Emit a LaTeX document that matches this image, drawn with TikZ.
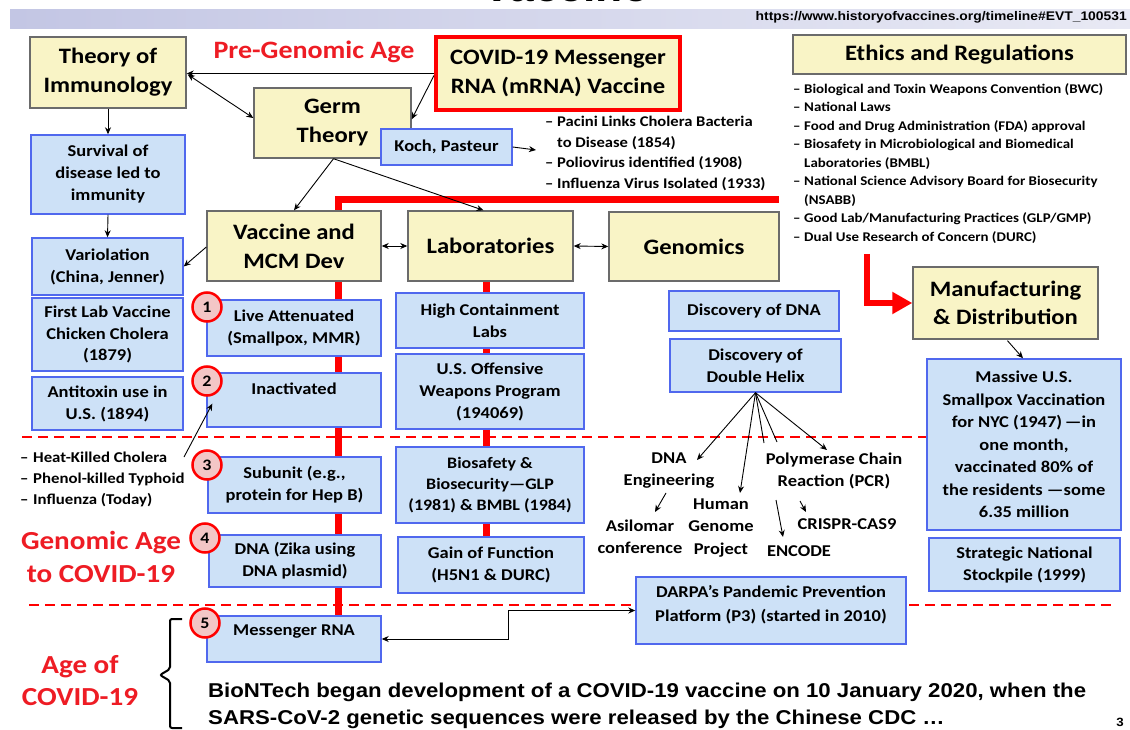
\documentclass[tikz,border=0pt]{standalone}
\usepackage{fontspec}
\setmainfont{Carlito}[FakeStretch=1.12]
\newfontfamily\arialf{Liberation Sans}[FakeStretch=1.11]
\usetikzlibrary{arrows.meta,calc}
\newcommand\myfs[2]{\fontsize{#1}{#2}\selectfont}
\definecolor{yfill}{HTML}{F9F4C6}
\definecolor{yline}{HTML}{6B6B6B}
\definecolor{bfill}{HTML}{CDE1F7}
\definecolor{bline}{HTML}{5068EE}
\definecolor{cfill}{HTML}{F3C6C6}
\definecolor{myred}{HTML}{FF0000}
\definecolor{tred}{HTML}{EE1C24}
\definecolor{bandL}{HTML}{C3C6E4}
\definecolor{bandR}{HTML}{E8E9F4}
\begin{document}
\begin{tikzpicture}[x=1pt,y=-1pt,
 ybox/.style={draw=yline, fill=yfill, line width=1.4pt, align=center, inner sep=0pt, font=\bfseries\myfs{22}{29}},
 bbox/.style={draw=bline, fill=bfill, line width=1.4pt, align=center, inner sep=0pt, font=\bfseries\myfs{16.5}{22}},
 btext/.style={align=center, inner sep=0pt, font=\bfseries\myfs{16.5}{22}},
 num/.style={circle, draw=myred, fill=cfill, line width=2.5pt, minimum size=29pt, inner sep=0pt, font=\bfseries\myfs{16}{16}},
 arr/.style={-{Stealth[length=7pt,width=6pt]}, line width=0.9pt},
 darr/.style={{Stealth[length=7pt,width=6pt]}-{Stealth[length=7pt,width=6pt]}, line width=0.9pt},
 redline/.style={draw=myred, line width=7pt},
 reddash/.style={draw=myred, line width=2.5pt, dash pattern=on 10pt off 6pt},
 plain/.style={font=\bfseries\myfs{16.5}{22}, align=center, inner sep=0pt},
 age/.style={text=tred, font=\bfseries\myfs{26}{33}, align=center, inner sep=0pt},
 lst/.style={font=\bfseries\myfs{14.5}{20.7}, align=left, inner sep=0pt, anchor=north west},
]
\useasboundingbox (0,0) rectangle (1130,730);
\fill[white] (0,0) rectangle (1130,730);

% top band and title fragment
\shade[left color=bandL, right color=bandR] (10,10) rectangle (1130,29);
\node[anchor=base, inner sep=0pt, font=\arialf\bfseries\myfs{40}{40}] (title) at (565,2) {Vaccine};
\node[anchor=east, inner sep=0pt, font=\arialf\bfseries\myfs{12.5}{14}] (url) at (1127,17) {https://www.historyofvaccines.org/timeline\#EVT\_100531};

% red structure lines and dashed age separators
\draw[redline] (338,616) -- (338,200) -- (779,200);
\draw[redline] (486,281) -- (486,537);
\draw[reddash] (22,437) -- (1115,437);
\draw[reddash] (29,605) -- (1112,605);

% yellow boxes
\node[ybox, minimum width=156pt, minimum height=71pt] (theory) at (108,72.5) {Theory of\\Immunology};
\node[ybox, draw=myred, line width=4pt, minimum width=244pt, minimum height=73pt] (covid) at (558,73.5) {COVID-19 Messenger\\RNA (mRNA) Vaccine};
\node[ybox, minimum width=157pt, minimum height=70pt] (germ) at (332.5,123) {Germ\\Theory};
\node[ybox, minimum width=333pt, minimum height=39pt] (ethics) at (959.5,54.5) {Ethics and Regulations};
\node[ybox, minimum width=174pt, minimum height=70pt] (vaccine) at (294,246) {Vaccine and\\MCM Dev};
\node[ybox, minimum width=165pt, minimum height=70pt] (labs) at (490.5,246) {Laboratories};
\node[ybox, minimum width=170pt, minimum height=69pt] (genomics) at (694,246.5) {Genomics};
\node[ybox, minimum width=185pt, minimum height=72pt, font=\bfseries\myfs{22}{28}] (manuf) at (1005.5,303) {Manufacturing\\\& Distribution};

% blue boxes
\node[bbox, minimum width=131pt, minimum height=36pt] (koch) at (446.5,147) {Koch, Pasteur};
\node[bbox, minimum width=154pt, minimum height=79pt] (survival) at (108,174.5) {Survival of\\disease led to\\immunity};
\node[bbox, minimum width=151pt, minimum height=57pt] (variolation) at (107.5,266.5) {Variolation\\(China, Jenner)};
\node[bbox, minimum width=151pt, minimum height=73pt, font=\bfseries\myfs{16.5}{21.5}] (firstlab) at (107.5,334.5) {First Lab Vaccine\\Chicken Cholera\\(1879)};
\node[bbox, minimum width=151pt, minimum height=53pt] (antitoxin) at (107.5,403.5) {Antitoxin use in\\U.S. (1894)};

\node[bbox, minimum width=174pt, minimum height=56pt] (live) at (294,328) {Live Attenuated\\(Smallpox, MMR)};
\node[bbox, minimum width=174pt, minimum height=54pt] (inact) at (294,400) {};
\node[btext] (inactT) at (294,389) {Inactivated};
\node[bbox, minimum width=173pt, minimum height=56pt] (subunit) at (294.5,485) {Subunit (e.g.,\\protein for Hep B)};
\node[bbox, minimum width=172pt, minimum height=52pt] (dnabox) at (295,561) {DNA (Zika using\\DNA plasmid)};
\node[bbox, minimum width=174pt, minimum height=46pt] (mrna) at (294,639) {};
\node[btext] (mrnaT) at (294,632) {Messenger RNA};

\node[bbox, minimum width=188pt, minimum height=55pt] (highc) at (490,320.5) {High Containment\\Labs};
\node[bbox, minimum width=188pt, minimum height=75pt] (usoff) at (490,391.5) {U.S. Offensive\\Weapons Program\\(194069)};
\node[bbox, minimum width=188pt, minimum height=76pt, font=\bfseries\myfs{16}{21}] (biosafe) at (490,485) {Biosafety \&\\Biosecurity—GLP\\(1981) \& BMBL (1984)};
\node[bbox, minimum width=186pt, minimum height=56pt] (gof) at (491,565) {Gain of Function\\(H5N1 \& DURC)};

\node[bbox, minimum width=170pt, minimum height=40pt] (discdna) at (754,311) {Discovery of DNA};
\node[bbox, minimum width=171pt, minimum height=53pt] (dhelix) at (755.5,365.5) {Discovery of\\Double Helix};

\node[bbox, minimum width=194pt, minimum height=171pt, font=\bfseries\myfs{16.5}{22.5}] (massive) at (1024,444.5) {Massive U.S.\\Smallpox Vaccination\\for NYC (1947)\,—in\\one month,\\vaccinated 80\% of\\the residents —some\\6.35 million};
\node[bbox, minimum width=191pt, minimum height=53pt] (snstock) at (1024.5,564.5) {Strategic National\\Stockpile (1999)};
\node[bbox, minimum width=270pt, minimum height=67pt] (darpa) at (771,610.5) {};
\node[btext, font=\bfseries\myfs{16.5}{24}] (darpaT) at (771,605) {DARPA’s Pandemic Prevention\\Platform (P3) (started in 2010)};

% numbered circles
\node[num] (n1) at (207,307) {1};
\node[num] (n2) at (207,381) {2};
\node[num] (n3) at (207,465) {3};
\node[num] (n4) at (205,538) {4};
\node[num] (n5) at (205,623) {5};

% free texts
\node[text=tred, font=\bfseries\myfs{25}{30}, inner sep=0pt] (pregen) at (314,52) {Pre-Genomic Age};
\node[age] (genage) at (101,557) {Genomic Age\\to COVID-19};
\node[age, font=\bfseries\myfs{26}{32}] (ageof) at (80,681) {Age of\\COVID-19};

\node[lst, font=\bfseries\myfs{14.8}{20.7}] (pacini) at (545,116) {\makebox[12pt][l]{–}Pacini Links Cholera Bacteria\\\hspace*{12pt}to Disease (1854)\\\makebox[12pt][l]{–}Poliovirus identified (1908)\\\makebox[12pt][l]{–}Influenza Virus Isolated (1933)};
\node[lst, font=\bfseries\myfs{13.3}{18.5}] (ethlist) at (793,83) {\makebox[11pt][l]{–}Biological and Toxin Weapons Convention (BWC)\\\makebox[11pt][l]{–}National Laws\\\makebox[11pt][l]{–}Food and Drug Administration (FDA) approval\\\makebox[11pt][l]{–}Biosafety in Microbiological and Biomedical\\\hspace*{11pt}Laboratories (BMBL)\\\makebox[11pt][l]{–}National Science Advisory Board for Biosecurity\\\hspace*{11pt}(NSABB)\\\makebox[11pt][l]{–}Good Lab/Manufacturing Practices (GLP/GMP)\\\makebox[11pt][l]{–}Dual Use Research of Concern (DURC)};
\node[lst, font=\bfseries\myfs{15}{21}] (killed) at (20,452) {\makebox[13pt][l]{–}Heat-Killed Cholera\\\makebox[13pt][l]{–}Phenol-killed Typhoid\\\makebox[13pt][l]{–}Influenza (Today)};

\node[plain] (dnaeng) at (669,471) {DNA\\Engineering};
\node[plain] (asil) at (640,537) {Asilomar\\conference};
\node[plain, font=\bfseries\myfs{16.5}{22.5}] (human) at (721,528) {Human\\Genome\\Project};
\node[plain] (pcr) at (834,471) {Polymerase Chain\\Reaction (PCR)};
\node[plain] (crispr) at (847,524) {CRISPR-CAS9};
\node[plain] (encode) at (799,551) {ENCODE};

\node[anchor=base west, inner sep=0pt, font=\arialf\bfseries\myfs{20}{24}] (bion1) at (208,697) {BioNTech began development of a COVID-19 vaccine on 10 January 2020, when the};
\node[anchor=base west, inner sep=0pt, font=\arialf\bfseries\myfs{20}{24}] (bion2) at (208,724) {SARS-CoV-2 genetic sequences were released by the Chinese CDC …};
\node[inner sep=0pt, font=\arialf\bfseries\myfs{12}{12}] (pagenum) at (1120,722) {3};

% brace
\draw[line width=2pt, rounded corners=2pt] (182,619) -- (170,619) -- (170,669) -- (160,675) -- (170,681) -- (170,728) -- (182,728);

% coordinates for free ends
\coordinate (pacL) at (536,150);
\coordinate (eDE) at (697,460);
\coordinate (eHG) at (740,493);
\coordinate (eL1) at (764,443);
\coordinate (eL2) at (777,442);
\coordinate (ePCR) at (827,450);
\coordinate (sENC) at (776,500);
\coordinate (eENC) at (783,537);
\coordinate (sCR) at (800,501);
\coordinate (eCR) at (806,512);
\coordinate (sAS) at (666,493);
\coordinate (eAS) at (655,512);
\coordinate (sKill) at (184,457);
\coordinate (redstart) at (867,254);

% connectors
\draw[arr] (covid.west) -- (covid.west -| theory.east);
\draw[arr] ([yshift=-2pt]covid.west) -- ($(germ.north east)+(0,32)$);
\draw[darr] ($(theory.east)+(1,2)$) -- ($(germ.west)+(0,-5)$);
\draw[arr] (theory.south) -- (survival.north);
\draw[arr] (survival.south) -- (variolation.north);
\draw[arr] ($(vaccine.west)+(0,1)$) -- (variolation.east);
\draw[arr] ($(germ.south)+(1,0)$) -- (vaccine.north);
\draw[arr] ($(germ.south)+(1,0)$) -- ($(labs.north)+(-7,0)$);
\draw[arr] (koch.east) -- (pacL);
\draw[darr] (vaccine.east) -- (labs.west);
\draw[darr] (labs.east) -- (genomics.west);
\draw[arr] (dhelix.south) -- (eDE);
\draw[arr] (dhelix.south) -- (eHG);
\draw[line width=0.9pt] (dhelix.south) -- (eL1);
\draw[line width=0.9pt] (dhelix.south) -- (eL2);
\draw[arr] (dhelix.south) -- (ePCR);
\draw[arr] (sENC) -- (eENC);
\draw[arr] (sCR) -- (eCR);
\draw[arr] (sAS) -- (eAS);
\draw[arr] ($(manuf.south)+(2,1)$) -- ($(massive.north)+(-1,0)$);
\draw[arr] (sKill) -- ($(inact.south west)+(6,-24)$);
\draw[darr] (mrna.east) -- ++(127,0) |- (darpa.west);
\draw[myred, line width=6pt, -{Triangle[length=20pt,width=21pt]}] (redstart) -- (867,303) -- (manuf.west);
\end{tikzpicture}
\end{document}
